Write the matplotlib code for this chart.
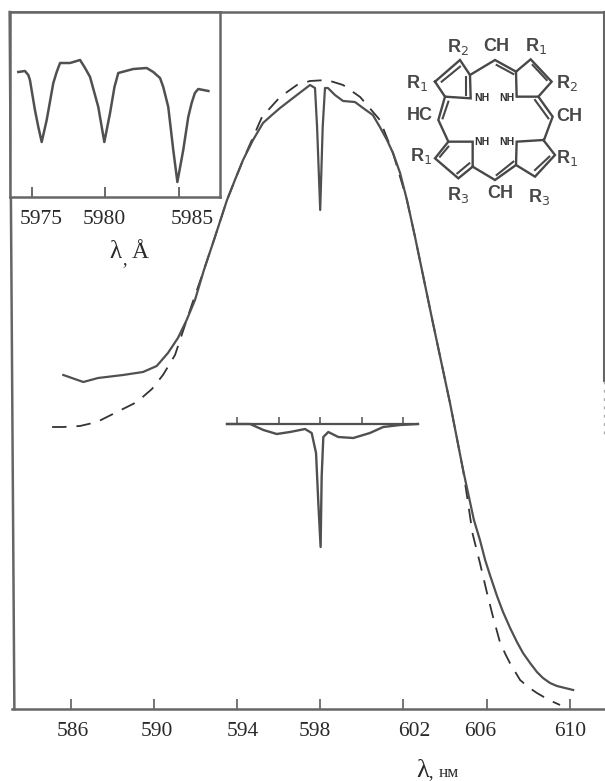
import matplotlib
matplotlib.use("Agg")
import matplotlib.pyplot as plt

plt.rcParams["font.family"] = ["Liberation Serif", "DejaVu Serif"]

W, H = 605, 781
LINE = "#505050"
FRAME = "#666666"
TEXT = "#2a2a2a"
MOL = "#484848"

# main spectrum, wavelength in nm and intensity in arbitrary units
solid_nm = [585.65, 586.61, 587.32, 588.52, 589.48, 590.14, 590.68, 591.16, 591.58, 591.98,
            592.41, 592.94, 593.52, 593.90, 594.29, 594.77, 595.25, 595.68, 596.07, 596.88,
            597.51, 597.75, 597.85, 598.00, 598.12, 598.23, 598.37, 598.71, 599.10, 599.67,
            600.06, 600.53, 600.87, 601.21, 601.50, 601.84, 602.17, 602.56, 603.42, 604.24,
            604.87, 605.39, 605.68, 605.93, 606.16, 606.50, 606.79, 607.13, 607.46, 607.75,
            608.09, 608.42, 608.71, 609.05, 609.38, 610.16]
solid_int = [334, 327, 331, 334, 337, 343, 356, 371, 389, 409,
             439, 472, 509, 529, 549, 569, 586, 594, 601, 614,
             624, 621, 582, 499, 582, 621, 621, 614, 608, 607,
             601, 594, 582, 569, 556, 536, 509, 472, 386, 306,
             239, 189, 169, 149, 134, 113, 97, 81, 67, 56,
             46, 37, 31, 26, 23, 19]

dashed_nm = [585.11, 585.64, 586.45, 587.27, 588.13, 589.19, 589.91, 590.44, 591.02, 591.26,
             591.84, 592.41, 592.94, 593.52, 594.29, 595.20, 596.07, 596.88, 597.51, 598.33,
             599.10, 599.92, 600.87, 601.50, 602.17, 602.56, 603.42, 604.24, 604.87, 605.33,
             605.68, 606.02, 606.31, 606.64, 606.90, 607.12, 607.61, 608.00, 608.42, 609.00,
             609.53]
dashed_int = [282, 282, 283, 287, 296, 307, 320, 334, 354, 369,
              405, 439, 472, 509, 549, 592, 612, 624, 628, 629,
              624, 612, 589, 556, 509, 472, 386, 306, 239, 175,
              146, 116, 92, 67, 55, 46, 29, 22, 16, 9,
              4]

# difference trace drawn inside the main axes
diff_nm = [593.52, 594.63, 595.27, 595.91, 596.55, 597.27, 597.59, 597.80, 597.91, 598.02,
           598.07, 598.15, 598.39, 598.87, 599.59, 600.39, 601.03, 601.84, 602.70]
diff_int = [285, 285, 279, 275, 277, 280, 276, 256, 206, 162,
            232, 272, 277, 272, 271, 276, 282, 284, 285]
diff_base_nm = [593.52, 602.70]
diff_base_int = [285, 285]
diff_ticks = [594, 596, 598, 600, 602]

# inset spectrum, wavelength in angstrom
inset_a = [5974.09, 5974.54, 5974.77, 5974.88, 5975.22, 5975.45, 5975.68, 5976.02, 5976.47,
           5976.70, 5976.93, 5977.61, 5978.29, 5978.63, 5978.97, 5979.53, 5979.94, 5980.33,
           5980.63, 5980.89, 5981.91, 5982.82, 5983.27, 5983.73, 5983.95, 5984.29, 5984.63,
           5984.91, 5985.31, 5985.65, 5985.88, 5986.10, 5986.33, 5987.02]
inset_int = [125, 126, 122, 117, 87, 70, 55, 77, 114,
             125, 134, 134, 137, 129, 120, 90, 55, 84,
             110, 124, 128, 129, 125, 119, 110, 90, 47,
             15, 47, 80, 94, 104, 108, 106]

main_ticks = [586, 590, 594, 598, 602, 606, 610]
main_label_dx = [2.4, 3.5, 6, -5, 11, -6, 0]
inset_ticks = [5975, 5980, 5985]
inset_label_dx = [9.5, -1, 14]

# porphyrin sketch, in units of the crop box it is placed in
mol_paths = [
    [(165, 245), (240, 180), (270, 225), (272, 295), (195, 290), (165, 245)],
    [(270, 225), (345, 180), (408, 215)],
    [(408, 215), (452, 178), (515, 245), (475, 290), (410, 290), (408, 215)],
    [(475, 290), (518, 350), (492, 420)],
    [(490, 420), (525, 465), (465, 530), (408, 495), (410, 425), (490, 420)],
    [(408, 495), (345, 540), (278, 500)],
    [(278, 500), (235, 535), (165, 475), (205, 425), (278, 425), (278, 500)],
    [(195, 290), (175, 360), (205, 425)],
]
mol_double = [
    [(185, 245), (240, 200)], [(258, 232), (258, 285)], [(350, 195), (400, 222)],
    [(458, 195), (500, 240)], [(465, 300), (505, 355)], [(205, 305), (188, 355)],
    [(205, 440), (180, 470)], [(268, 490), (232, 520)], [(400, 485), (350, 525)],
    [(508, 470), (465, 510)],
]
mol_labels = [
    ("R$_2$", 235, 140), ("CH", 350, 140), ("R$_1$", 467, 137), ("R$_1$", 112, 250),
    ("R$_2$", 560, 250), ("HC", 118, 345), ("CH", 568, 350), ("R$_1$", 122, 468),
    ("R$_1$", 560, 475), ("R$_3$", 235, 585), ("CH", 360, 580), ("R$_3$", 478, 590),
]
mol_nh = [("NH", 305, 295), ("NH", 380, 295), ("NH", 305, 425), ("NH", 380, 425)]


def px_axes(fig, left, top, right, bottom):
    return fig.add_axes([left / W, 1 - bottom / H, (right - left) / W, (bottom - top) / H])


fig = plt.figure(figsize=(W / 100, H / 100), dpi=100, facecolor="white")

# main axes: 20.8 px per nm, 586 nm at x = 70.6 px, 1 unit per px upwards
ax = px_axes(fig, 12, 12, 605, 709)
ax.set_xlim(586 + (12 - 70.6) / 20.8, 586 + (605 - 70.6) / 20.8)
ax.set_ylim(0, 697)
ax.set_yticks([])
ax.plot(dashed_nm, dashed_int, color="#333333", lw=1.3, dashes=(8, 5.5), zorder=2)
ax.plot(solid_nm, solid_int, color=LINE, lw=1.6, zorder=3)
ax.plot(diff_base_nm, diff_base_int, color=LINE, lw=1.6, zorder=3)
ax.plot(diff_nm, diff_int, color=LINE, lw=1.7, zorder=3)
ax.vlines(diff_ticks, 285, 292, color=LINE, lw=1.1)

for name in ["left", "right"]:
    ax.spines[name].set_visible(False)
for name in ["bottom", "top"]:
    ax.spines[name].set_color(FRAME)
    ax.spines[name].set_linewidth(1.8)

# the scanned frame leans a little and its right side fades out
ax.plot([-0.004, 0.004], [1, 0], transform=ax.transAxes, color=FRAME, lw=1.8, clip_on=False)
ax.plot([0.998, 0.998], [1, 0.47], transform=ax.transAxes, color=FRAME, lw=1.5, clip_on=False)
ax.plot([0.998, 0.998], [0.47, 0.39], transform=ax.transAxes, color="#aaaaaa", lw=1.0,
        dashes=(2, 4), clip_on=False)

ax.set_xticks(main_ticks)
ax.set_xticklabels([])
ax.tick_params(axis="x", direction="in", length=7, width=1.1, color=LINE)
for tick, dx in zip(main_ticks, main_label_dx):
    ax.annotate(str(tick), (tick, 0), xycoords=ax.get_xaxis_transform(), xytext=(dx * 0.72, -16.5),
                textcoords="offset points", ha="center", va="center", fontsize=15.5, color=TEXT)

fig.text(423 / W, 1 - 771 / H, "λ", fontsize=19, color=TEXT, ha="center", va="center")
fig.text(431 / W, 1 - 773 / H, ",", fontsize=13, color=TEXT, ha="center", va="center")
fig.text(449 / W, 1 - 773 / H, "нм", fontsize=12.5, color=TEXT, ha="center", va="center")

# inset spectrum: 14.7 px per angstrom, 5975 at x = 31.7 px
axi = px_axes(fig, 10, 12, 220, 197)
axi.set_xlim(5975 + (10 - 31.7) / 14.7, 5975 + (220 - 31.7) / 14.7)
axi.set_ylim(0, 185)
axi.set_yticks([])
axi.plot(inset_a, inset_int, color=LINE, lw=1.8)
for spine in axi.spines.values():
    spine.set_color(FRAME)
    spine.set_linewidth(1.8)
axi.set_xticks(inset_ticks)
axi.set_xticklabels([])
axi.tick_params(axis="x", direction="in", length=7, width=1.2, color=LINE)
for tick, dx in zip(inset_ticks, inset_label_dx):
    axi.annotate(str(tick), (tick, 0), xycoords=axi.get_xaxis_transform(), xytext=(dx * 0.72, -16.5),
                 textcoords="offset points", ha="center", va="center", fontsize=15.5, color=TEXT)
fig.text(115 / W, 1 - 252 / H, "λ", fontsize=18, color=TEXT, ha="center", va="center")
fig.text(125 / W, 1 - 260 / H, ",", fontsize=13, color=TEXT, ha="center", va="center")
fig.text(140 / W, 1 - 252 / H, "Å", fontsize=17, color=TEXT, ha="center", va="center")

# structural formula, top right
axm = px_axes(fig, 380, 0, 605, 220)
axm.set_xlim(0, 675)
axm.set_ylim(660, 0)
axm.axis("off")
axm.patch.set_alpha(0)
for path in mol_paths:
    xs, ys = zip(*path)
    axm.plot(xs, ys, color=MOL, lw=1.7, solid_joinstyle="miter")
for seg in mol_double:
    xs, ys = zip(*seg)
    axm.plot(xs, ys, color=MOL, lw=1.5)
for label, x, y in mol_labels:
    axm.text(x, y, label, fontsize=13, color=MOL, ha="center", va="center",
             family=["Liberation Sans", "DejaVu Sans"], fontweight="bold")
for label, x, y in mol_nh:
    axm.text(x, y, label, fontsize=7.5, color="#303030", ha="center", va="center",
             family=["Liberation Sans", "DejaVu Sans"], fontweight="bold")

fig.savefig("out.png", dpi=100)
